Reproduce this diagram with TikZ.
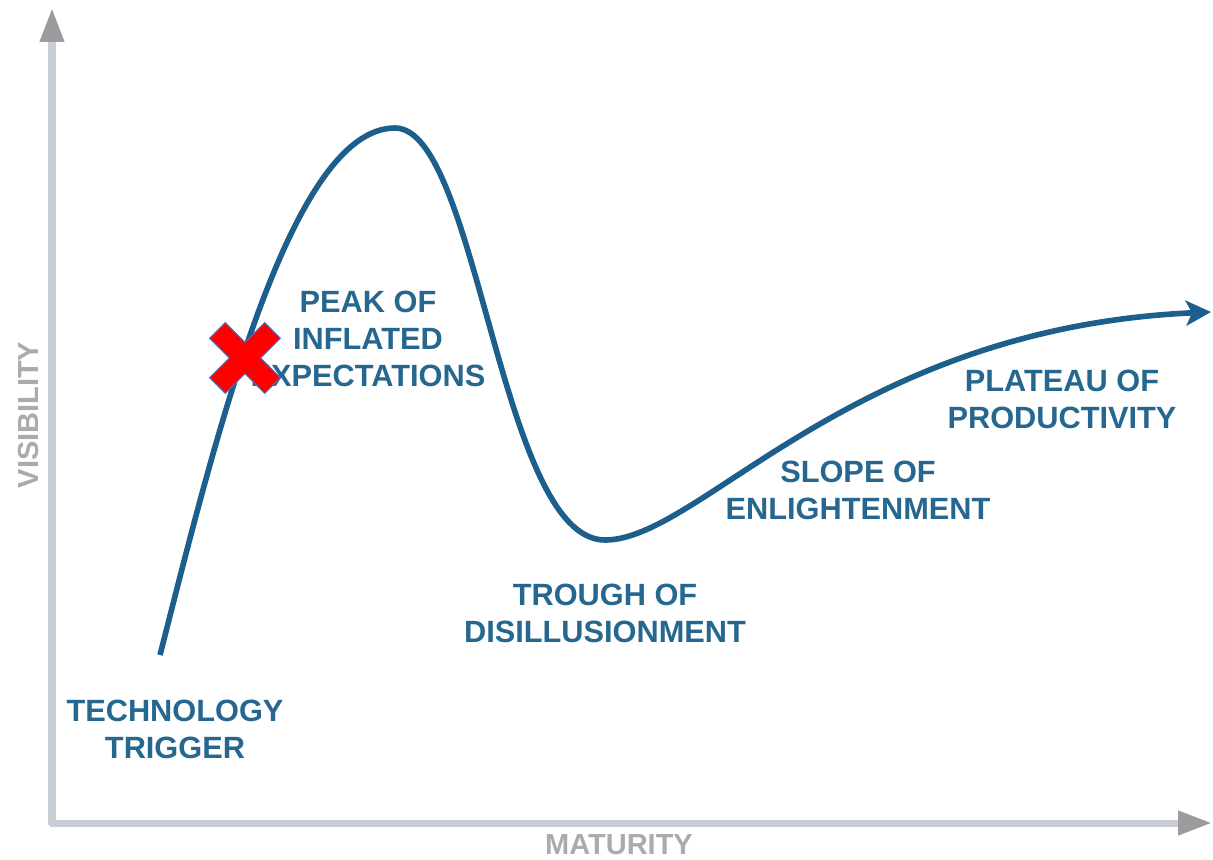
\documentclass[tikz,border=0pt]{standalone}
\usepackage{fontspec}
\setmainfont{Liberation Sans}
\usetikzlibrary{arrows.meta}
\definecolor{curveblue}{HTML}{1C5E8C}
\definecolor{textblue}{HTML}{25678F}
\definecolor{axisline}{HTML}{C8CCD4}
\definecolor{axishead}{HTML}{9C9C9E}
\definecolor{axistext}{HTML}{ABABAE}
\definecolor{xred}{HTML}{FF0000}
\definecolor{xedge}{HTML}{4A72C0}
\tikzset{
  phase/.style={text=textblue, font=\bfseries\fontsize{17.5}{21}\selectfont, align=center, inner sep=0pt},
  axislabel/.style={text=axistext, font=\bfseries\fontsize{16.5}{19}\selectfont, inner sep=0pt},
  axisarrow/.style={draw=axisline, line width=4pt, -{Triangle[length=0.68cm,width=0.46cm,color=axishead]}},
  hype/.style={draw=curveblue, line width=3.2pt, -{Stealth[length=0.5cm,width=0.5cm,inset=0.12cm]}}
}
\begin{document}
\begin{tikzpicture}[x=0.02cm,y=-0.02cm]
\useasboundingbox (0,0) rectangle (1213,859);
% axes
\coordinate (origin) at (52,825);
\coordinate (ytip) at (52,8);
\coordinate (xtip) at (1212,823);
\coordinate (xstart) at (50,823);
\draw[axisarrow] (origin) -- (ytip);
\draw[axisarrow] (xstart) -- (xtip);
\node[axislabel, rotate=90] (vis) at (29,415) {VISIBILITY};
\node[axislabel] (mat) at (619,845) {MATURITY};
% curve
\coordinate (start) at (160,655);
\coordinate (peak) at (395,128);
\coordinate (trough) at (605,540);
\coordinate (end) at (1211,312);
\draw[hype] (start) .. controls (215,440) and (290,128) .. (peak)
  .. controls (478,128) and (500,540) .. (trough)
  .. controls (700,540) and (850,328) .. (end);
% labels
\node[phase] (trigger) at (175,729) {TECHNOLOGY\\TRIGGER};
\node[phase] (peaklbl) at (368,339) {PEAK OF\\INFLATED\\EXPECTATIONS};
\node[phase] (troughlbl) at (605,613) {TROUGH OF\\DISILLUSIONMENT};
\node[phase] (slope) at (858,490) {SLOPE OF\\ENLIGHTENMENT};
\node[phase] (plateau) at (1062,399) {PLATEAU OF\\PRODUCTIVITY};
% red cross
\begin{scope}[shift={(245,358)}, rotate=45]
\fill[xred, draw=xedge, line width=0.6pt]
  (11,11) -- (39,11) -- (39,-11) -- (11,-11) -- (11,-39) -- (-11,-39) -- (-11,-11)
  -- (-39,-11) -- (-39,11) -- (-11,11) -- (-11,39) -- (11,39) -- cycle;
\end{scope}
\end{tikzpicture}
\end{document}
